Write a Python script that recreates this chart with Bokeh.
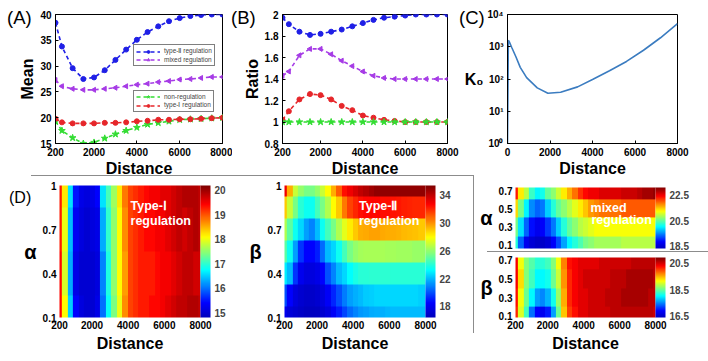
import numpy as np
from bokeh.plotting import figure
from bokeh.models import (Range1d, FixedTicker, NumeralTickFormatter, Legend, LegendItem,
                          Label, LinearColorMapper, ColorBar, Div)
from bokeh.layouts import row, column
from bokeh.embed import file_html
from bokeh.resources import INLINE

# ---------------- data ----------------
distance = [200, 500, 1000, 1500, 2000, 2500, 3000, 3500, 4000, 4500, 5000, 5500, 6000, 6500, 7000, 7500, 8000]
mean_type2 = [38.4, 33.8, 29.6, 27.5, 27.8, 29.2, 31.2, 33.2, 35.1, 36.6, 37.7, 38.7, 39.3, 39.7, 39.9, 40.0, 40.0]
mean_mixed = [27.3, 26.1, 25.6, 25.4, 25.4, 25.6, 25.8, 26.1, 26.4, 26.6, 26.9, 27.1, 27.4, 27.5, 27.7, 27.9, 27.9]
mean_nonreg = [19.3, 17.5, 16.1, 15.0, 15.2, 16.0, 16.8, 17.5, 18.1, 18.7, 19.0, 19.3, 19.6, 19.7, 19.8, 19.9, 20.0]
mean_type1 = [19.8, 19.1, 18.9, 18.9, 18.9, 19.0, 19.0, 19.1, 19.3, 19.4, 19.6, 19.6, 19.7, 19.7, 19.8, 19.9, 20.0]

ratio_type2 = [1.97, 1.91, 1.84, 1.81, 1.82, 1.84, 1.86, 1.89, 1.92, 1.95, 1.97, 1.98, 1.99, 2.0, 2.0, 2.0, 2.0]
ratio_mixed = [1.43, 1.47, 1.62, 1.68, 1.68, 1.63, 1.57, 1.52, 1.47, 1.43, 1.41, 1.40, 1.40, 1.40, 1.40, 1.40, 1.40]
ratio_nonreg = [1.0, 1.0, 1.0, 1.0, 1.0, 1.0, 1.0, 1.0, 1.0, 1.0, 1.0, 1.0, 1.0, 1.0, 1.0, 1.0, 1.0]
ratio_type1 = [1.02, 1.10, 1.21, 1.26, 1.25, 1.21, 1.15, 1.11, 1.06, 1.04, 1.02, 1.01, 1.0, 1.0, 1.0, 1.0, 1.0]

c_distance = [0, 40, 80, 200, 400, 600, 900, 1400, 1900, 2500, 3300, 4000, 4800, 5600, 6400, 7200, 8000]
c_k0 = [1, 1600, 1450, 950, 480, 230, 110, 53, 36, 39, 57, 96, 180, 350, 780, 1900, 5200]

hm_distance = [200, 500, 800, 1100, 1400, 1700, 2000, 2300, 2600, 2900, 3200, 3500, 3800, 4100,
               4400, 4700, 5000, 5300, 5600, 5900, 6200, 6500, 6800, 7100, 7400, 7700, 8000]

d_alpha = [0.1, 0.4, 0.7, 1.0]
d_values = [
    [19.4, 18.1, 16.5, 15.4, 15.1, 15.0, 15.0, 15.2, 16.0, 16.8, 17.4, 18.0, 18.7, 19.1, 19.2, 19.3, 19.3, 19.4, 19.4, 19.5, 19.6, 19.7, 19.8, 19.8, 19.9, 19.9, 19.8],
    [19.4, 17.9, 16.3, 15.2, 15.0, 15.0, 15.0, 15.1, 16.1, 16.9, 17.5, 18.1, 18.6, 19.1, 19.2, 19.3, 19.3, 19.3, 19.4, 19.5, 19.5, 19.6, 19.7, 19.8, 19.8, 19.7, 19.7],
    [19.3, 18.0, 16.4, 15.3, 15.1, 15.0, 15.1, 15.2, 16.3, 17.0, 17.5, 18.1, 18.7, 19.1, 19.2, 19.3, 19.4, 19.4, 19.5, 19.5, 19.6, 19.7, 19.8, 19.7, 19.8, 19.9, 19.8],
    [19.3, 18.2, 16.6, 15.5, 15.2, 15.1, 15.2, 15.4, 16.6, 17.1, 17.6, 18.2, 18.8, 19.1, 19.2, 19.3, 19.4, 19.5, 19.5, 19.6, 19.6, 19.7, 19.8, 19.9, 19.9, 19.9, 19.8],
]

e_beta = [0.1, 0.25, 0.4, 0.55, 0.7, 0.85, 1.0]
e_values = [
    [18.0, 17.3, 17.0, 16.7, 16.5, 16.5, 16.6, 17.0, 17.5, 18.3, 19.0, 19.8, 20.5, 21.0, 21.3, 21.5, 21.7, 21.8, 21.8, 21.9, 22.0, 22.0, 22.0, 22.0, 22.0, 22.0, 22.0],
    [20.0, 18.5, 17.5, 17.0, 16.8, 16.8, 17.0, 17.5, 18.3, 19.2, 20.0, 20.8, 21.5, 21.8, 22.0, 22.3, 22.4, 22.5, 22.5, 22.5, 22.5, 22.5, 22.5, 22.5, 22.5, 22.4, 22.4],
    [23.0, 22.0, 19.5, 18.0, 17.5, 17.5, 17.8, 18.5, 20.0, 21.0, 22.0, 22.5, 23.3, 23.7, 24.0, 24.0, 24.1, 24.1, 24.1, 24.1, 24.0, 24.0, 24.0, 24.0, 24.0, 24.0, 24.0],
    [25.0, 23.5, 21.5, 19.5, 18.5, 18.5, 19.0, 20.5, 22.0, 22.5, 23.5, 24.5, 25.5, 26.0, 26.3, 26.4, 26.4, 26.4, 26.4, 26.3, 26.3, 26.2, 26.2, 26.2, 26.1, 26.1, 26.0],
    [26.5, 25.0, 23.5, 22.5, 21.5, 21.0, 22.0, 23.5, 24.5, 25.5, 26.5, 27.5, 28.3, 29.0, 29.5, 29.6, 29.7, 29.7, 29.6, 29.5, 29.5, 29.4, 29.3, 29.2, 29.1, 29.0, 29.0],
    [29.0, 27.0, 25.5, 24.0, 23.5, 23.5, 24.5, 25.5, 26.5, 28.0, 29.0, 30.5, 31.5, 32.0, 32.5, 32.6, 32.6, 32.6, 32.5, 32.5, 32.4, 32.3, 32.2, 32.1, 32.0, 32.0, 32.0],
    [33.0, 29.5, 27.0, 26.0, 25.5, 25.5, 26.0, 27.0, 28.0, 29.5, 31.0, 32.5, 33.0, 33.5, 34.0, 34.3, 34.7, 35.0, 35.0, 35.0, 35.0, 35.0, 35.0, 35.0, 35.0, 35.0, 35.0],
]

f_alpha = [0.1, 0.3, 0.5, 0.7]
f_values = [
    [20.2, 19.3, 18.7, 18.5, 18.4, 18.4, 18.5, 18.8, 19.2, 19.6, 20.0, 20.2, 20.4, 20.6, 20.7, 20.8, 20.8, 20.8, 20.8, 20.8, 20.9, 20.9, 20.9, 20.9, 20.9, 20.9, 20.9],
    [20.6, 19.9, 19.3, 18.9, 18.7, 18.8, 19.1, 19.4, 19.8, 20.2, 20.5, 20.7, 20.9, 21.0, 21.1, 21.2, 21.2, 21.2, 21.2, 21.2, 21.2, 21.2, 21.2, 21.2, 21.2, 21.2, 21.2],
    [21.4, 20.6, 20.0, 19.5, 19.3, 19.4, 19.8, 20.2, 20.5, 20.7, 20.9, 21.1, 21.3, 21.5, 21.7, 21.8, 21.9, 21.9, 21.9, 21.9, 22.0, 22.0, 22.0, 22.0, 22.0, 22.0, 22.0],
    [22.3, 21.3, 20.9, 20.3, 20.0, 20.1, 20.5, 20.7, 21.0, 21.3, 21.6, 21.9, 22.2, 22.4, 22.5, 22.5, 22.6, 22.6, 22.6, 22.6, 22.7, 22.7, 22.7, 22.8, 22.9, 22.9, 23.0],
]

g_beta = [0.1, 0.3, 0.5, 0.7]
g_values = [
    [20.1, 19.0, 18.3, 17.4, 16.9, 16.8, 17.0, 17.6, 18.5, 19.4, 20.0, 20.2, 20.4, 20.4, 20.5, 20.5, 20.5, 20.5, 20.6, 20.6, 20.6, 20.6, 20.6, 20.6, 20.6, 20.6, 20.5],
    [20.2, 19.1, 18.5, 18.0, 17.6, 17.5, 17.7, 18.1, 18.7, 19.5, 20.1, 20.3, 20.4, 20.4, 20.5, 20.5, 20.5, 20.6, 20.6, 20.6, 20.7, 20.7, 20.7, 20.7, 20.7, 20.6, 20.6],
    [20.3, 19.3, 18.6, 18.3, 18.0, 18.0, 18.1, 18.5, 18.9, 19.6, 20.1, 20.3, 20.4, 20.5, 20.5, 20.5, 20.5, 20.5, 20.6, 20.6, 20.6, 20.7, 20.7, 20.7, 20.7, 20.7, 20.6],
    [20.3, 19.1, 18.6, 18.4, 18.2, 18.2, 18.3, 18.6, 19.1, 19.7, 20.2, 20.3, 20.4, 20.4, 20.4, 20.4, 20.5, 20.5, 20.5, 20.5, 20.5, 20.5, 20.6, 20.6, 20.6, 20.6, 20.6],
]

x_ticks = [200, 2000, 4000, 6000, 8000]

# ---------------- style helpers ----------------
FONT = "Liberation Sans"
BLUE = "#1f1fe6"
PURPLE = "#a63be6"
GREEN = "#33dd33"
RED = "#e6262a"


def jet(n=256):
    anchors = [0.0, 0.11, 0.36, 0.61, 0.86, 1.0]
    cols = [(0, 0, 190), (0, 0, 255), (0, 255, 255), (255, 255, 0), (255, 0, 0), (128, 0, 0)]
    t = np.linspace(0, 1, n)
    r = np.interp(t, anchors, [c[0] for c in cols])
    g = np.interp(t, anchors, [c[1] for c in cols])
    b = np.interp(t, anchors, [c[2] for c in cols])
    return ["#%02x%02x%02x" % (int(a), int(bb), int(c)) for a, bb, c in zip(r, g, b)]


JET = jet()


def base_fig(width, height, xr, yr, left, right, top, bottom, **kw):
    p = figure(width=width, height=height, x_range=xr, y_range=yr,
               output_backend="svg", toolbar_location=None,
               min_border_left=left, min_border_right=right,
               min_border_top=top, min_border_bottom=bottom, **kw)
    p.grid.visible = False
    p.background_fill_color = "white"
    p.border_fill_color = "white"
    for ax in p.axis:
        ax.major_label_text_font = FONT
        ax.major_label_text_font_style = "bold"
        ax.major_label_text_font_size = "10px"
        ax.major_label_text_color = "black"
        ax.axis_label_text_font = FONT
        ax.axis_label_text_font_style = "bold"
        ax.axis_label_text_font_size = "16px"
        ax.axis_label_text_color = "black"
        ax.minor_tick_line_color = None
        ax.major_tick_in = 3
        ax.major_tick_out = 0
        ax.major_label_standoff = 4
        ax.axis_label_standoff = 1
        ax.axis_line_color = "black"
        ax.major_tick_line_color = "black"
    return p


def horizontal_label(ax):
    try:
        ax.axis_label_orientation = "horizontal"
    except Exception:
        pass


def series(p, x, y, color, marker, size, angle=0.0):
    l = p.line(x, y, line_color=color, line_width=1.6, line_dash="4 3")
    s = p.scatter(x, y, marker=marker, size=size, angle=angle, line_color=color, fill_color=color)
    return [l, s]


TOP_H = 179

# ---------------- (A) Mean ----------------
pa = base_fig(232, TOP_H, Range1d(200, 8000), Range1d(15, 40), 55, 10, 14, 35)
pa.outline_line_color = "black"
pa.xaxis.ticker = FixedTicker(ticks=x_ticks)
pa.yaxis.ticker = FixedTicker(ticks=[15, 20, 25, 30, 35, 40])
pa.xaxis.axis_label = "Distance"
pa.yaxis.axis_label = "Mean"
ra2 = series(pa, distance, mean_type2, BLUE, "circle", 5)
ram = series(pa, distance, mean_mixed, PURPLE, "triangle", 5, angle=1.5708)
ran = series(pa, distance, mean_nonreg, GREEN, "star", 7)
ra1 = series(pa, distance, mean_type1, RED, "circle", 5)


def small_legend(items, loc):
    return Legend(items=items, location=loc, label_text_font=FONT, label_text_font_size="6.5px",
                  label_height=7, glyph_height=7, glyph_width=24, label_standoff=4, spacing=1,
                  padding=2, margin=0, border_line_color="black", border_line_width=1,
                  background_fill_color="white", background_fill_alpha=1.0)


leg1 = small_legend([LegendItem(label="type-Ⅱ regulation", renderers=ra2),
                     LegendItem(label="mixed regulation", renderers=ram)], (78, 77))
leg2 = small_legend([LegendItem(label="non-regulation", renderers=ran),
                     LegendItem(label="type-Ⅰ regulation", renderers=ra1)], (78, 31))
pa.add_layout(leg1)
pa.add_layout(leg2)

# ---------------- (B) Ratio ----------------
pb = base_fig(228, TOP_H, Range1d(200, 8000), Range1d(0.8, 2.0), 50, 13, 14, 35)
pb.outline_line_color = "black"
pb.xaxis.ticker = FixedTicker(ticks=x_ticks)
pb.yaxis.ticker = FixedTicker(ticks=[0.8, 1.0, 1.2, 1.4, 1.6, 1.8, 2.0])
pb.yaxis.formatter = NumeralTickFormatter(format="0.[0]")
pb.xaxis.axis_label = "Distance"
pb.yaxis.axis_label = "Ratio"
series(pb, distance, ratio_type2, BLUE, "circle", 5)
series(pb, distance, ratio_mixed, PURPLE, "triangle", 5, angle=1.5708)
series(pb, distance, ratio_type1, RED, "circle", 5)
series(pb, distance, ratio_nonreg, GREEN, "star", 7)

# ---------------- (C) K0 ----------------
pc = base_fig(248, TOP_H, Range1d(0, 8000), Range1d(1, 1e4), 47, 31, 14, 35, y_axis_type="log")
pc.outline_line_color = "black"
pc.xaxis.ticker = FixedTicker(ticks=[0, 2000, 4000, 6000, 8000])
pc.yaxis.ticker = FixedTicker(ticks=[1, 10, 100, 1000, 10000])
pc.yaxis.major_label_overrides = {1: "10⁰", 10: "10¹", 100: "10²", 1000: "10³", 10000: "10⁴"}
pc.xaxis.axis_label = "Distance"
pc.yaxis.axis_label = "K₀"
horizontal_label(pc.yaxis[0])
pc.line(c_distance, c_k0, line_color="#3b7cc0", line_width=1.6)


# ---------------- heatmaps ----------------
def heat_fig(width, height, yrange, yvals, z, lo, hi, cticks, left, right, top, bottom,
             ylabel, yticks, show_x=True):
    p = base_fig(width, height, Range1d(200, 8000), Range1d(*yrange), left, right, top, bottom)
    p.outline_line_color = None
    for ax in p.axis:
        ax.axis_line_color = None
        ax.major_tick_line_color = None
        ax.major_label_standoff = 3
        ax.axis_label_standoff = 3
    p.xaxis.ticker = FixedTicker(ticks=x_ticks)
    p.yaxis.ticker = FixedTicker(ticks=yticks)
    p.yaxis.formatter = NumeralTickFormatter(format="0.[0]")
    p.yaxis.axis_label = ylabel
    p.yaxis.axis_label_text_font_size = "20px"
    horizontal_label(p.yaxis[0])
    if show_x:
        p.xaxis.axis_label = "Distance"
    else:
        p.xaxis.visible = False
    mapper = LinearColorMapper(palette=JET, low=lo, high=hi)
    dx = hm_distance[1] - hm_distance[0]
    dy = yvals[1] - yvals[0]
    p.image(image=[np.array(z, dtype=float)], x=hm_distance[0] - dx / 2, y=yvals[0] - dy / 2,
            dw=dx * len(hm_distance), dh=dy * len(yvals), color_mapper=mapper)
    cb = ColorBar(color_mapper=mapper, width=10, height=height - top - bottom, padding=0, margin=8,
                  ticker=FixedTicker(ticks=cticks), major_tick_line_color=None, label_standoff=4,
                  major_label_text_font=FONT, major_label_text_font_style="bold",
                  major_label_text_font_size="10px", background_fill_alpha=0,
                  bar_line_color=None, border_line_color=None, location=(0, 0))
    p.add_layout(cb, "right")
    return p


def white_text(p, x, y, text):
    p.add_layout(Label(x=x, y=y, text=text, text_font=FONT, text_font_style="bold",
                       text_font_size="12.5px", text_color="white", text_align="left",
                       text_baseline="middle"))


BOT_H = 361 - TOP_H  # 182

pd_ = heat_fig(246, BOT_H, (0.1, 1.0), d_alpha, d_values, 14.8, 20.2, [15, 16, 17, 18, 19, 20],
               59, 46, 6, 44, "α", [0.1, 0.4, 0.7, 1.0])
white_text(pd_, 4130, 0.857, "Type-Ⅰ")
white_text(pd_, 4130, 0.755, "regulation")

pe = heat_fig(227, BOT_H, (0.1, 1.0), e_beta, e_values, 16.4, 35.4, [18, 22, 26, 30, 34],
              37, 48, 6, 44, "β", [0.1, 0.4, 0.7, 1.0])
white_text(pe, 4320, 0.857, "Type-Ⅱ")
white_text(pe, 4320, 0.755, "regulation")

pf = heat_fig(235, 72, (0.067, 0.733), f_alpha, f_values, 18.3, 23.1, [18.5, 20.5, 22.5],
              42, 53, 8, 3, "α", [0.1, 0.3, 0.5, 0.7], show_x=False)
white_text(pf, 4380, 0.51, "mixed")
white_text(pf, 4430, 0.38, "regulation")

pg = heat_fig(235, 110, (0.089, 0.732), g_beta, g_values, 16.4, 20.9, [16.5, 18.5, 20.5],
              42, 53, 6, 44, "β", [0.1, 0.3, 0.5, 0.7])


def abs_line(left, top, width, height):
    return Div(text="", width=width, height=height, margin=0,
               styles={"position": "absolute", "left": "%dpx" % left, "top": "%dpx" % top,
                       "width": "%dpx" % width, "height": "%dpx" % height,
                       "background-color": "#8c8c8c", "overflow": "hidden",
                       "line-height": "0", "z-index": "5"})


def panel_letter(text, left, top, size):
    return Div(text=text, margin=0,
               styles={"position": "absolute", "left": "%dpx" % left, "top": "%dpx" % top,
                       "font-family": FONT, "font-size": size, "line-height": "1",
                       "color": "black", "white-space": "nowrap", "z-index": "10"})


top = row(pa, pb, pc)
bottom = row(pd_, pe, column(pf, pg))
layout = column(top, bottom,
                abs_line(31, 175, 442, 1), abs_line(473, 175, 1, 158), abs_line(487, 251, 221, 1),
                panel_letter("(A)", 7, 9, "18.5px"), panel_letter("(B)", 231, 9, "18.5px"),
                panel_letter("(C)", 459, 9, "18.5px"), panel_letter("(D)", 9, 190, "16px"))

open("out.html", "w").write(file_html(layout, INLINE))
